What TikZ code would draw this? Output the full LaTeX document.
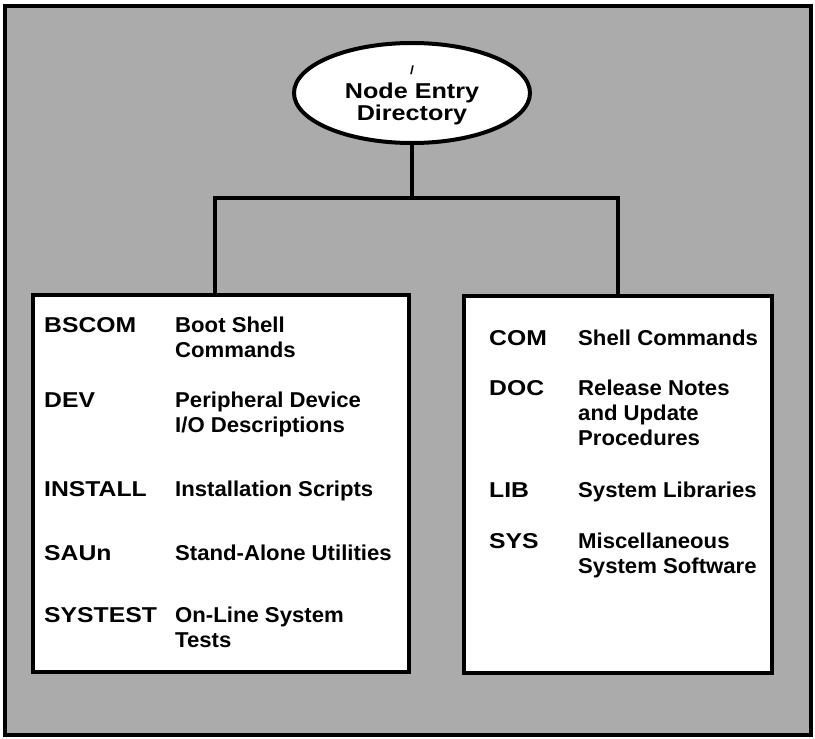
\documentclass[tikz,border=0pt]{standalone}
\usepackage{fontspec}
\setmainfont{Liberation Sans}[FakeStretch=1.03]
\newfontfamily\capfont{Liberation Sans}[FakeStretch=1.15]
\newfontfamily\ellfont{Liberation Sans}[FakeStretch=1.17]
\usetikzlibrary{shapes.geometric}
\definecolor{bggray}{gray}{0.67}
\tikzset{
  frame/.style={line width=4.5pt, draw=black},
  boxnode/.style={draw=black, line width=4.5pt, fill=white, rectangle, inner sep=0pt},
  rootnode/.style={draw=black, line width=4pt, fill=white, ellipse, inner sep=0pt,
    minimum width=236pt, minimum height=100pt, align=center,
    font=\ellfont\bfseries\fontsize{21.5}{23}\selectfont, text depth=0pt},
  conn/.style={line width=4pt, line join=miter},
  lbl/.style={anchor=base west, inner sep=0pt, font=\capfont\bfseries\fontsize{21.5}{25}\selectfont},
  desc/.style={anchor=base west, inner sep=0pt, align=left, font=\bfseries\fontsize{21.5}{25}\selectfont},
}
\begin{document}
\begin{tikzpicture}[x=1pt,y=-1pt]
\useasboundingbox (0,0) rectangle (815,739);
\draw[frame, fill=bggray] (5,6) rectangle (811,735);

\node[rootnode] (root) at (412,93) {{\fontsize{12}{23}\selectfont /}\\[1pt]Node Entry\\[-1pt]Directory};

\node[boxnode, minimum width=376pt, minimum height=377pt] (lbox) at (221,483.5) {};
\node[boxnode, minimum width=308pt, minimum height=377pt] (rbox) at (618,484.5) {};

\coordinate (j) at (412,198);
\coordinate (jl) at (215,198);
\coordinate (jr) at (618,198);
\draw[conn] (root.south) -- (j);
\draw[conn] (jl |- lbox.north) -- (jl) -- (jr) -- (jr |- rbox.north);

% left box (multi-line texts are placed by the baseline of their last line)
\node[lbl] (bscom) at (44,332) {BSCOM};
\node[desc] (bscomd) at (175,357) {Boot Shell\\Commands};
\node[lbl] (dev) at (44,407) {DEV};
\node[desc] (devd) at (175,432) {Peripheral Device\\I/O Descriptions};
\node[lbl] (install) at (44,496) {INSTALL};
\node[desc] (installd) at (175,496) {Installation Scripts};
\node[lbl] (saun) at (44,560) {SAUn};
\node[desc] (saund) at (175,560) {Stand-Alone Utilities};
\node[lbl] (systest) at (44,622) {SYSTEST};
\node[desc] (systestd) at (175,647) {On-Line System\\Tests};

% right box
\node[lbl] (com) at (489,345) {COM};
\node[desc] (comd) at (578,345) {Shell Commands};
\node[lbl] (doc) at (489,395) {DOC};
\node[desc] (docd) at (578,445) {Release Notes\\and Update\\Procedures};
\node[lbl] (lib) at (489,497) {LIB};
\node[desc] (libd) at (578,497) {System Libraries};
\node[lbl] (sys) at (489,548) {SYS};
\node[desc] (sysd) at (578,573) {Miscellaneous\\System Software};
\end{tikzpicture}
\end{document}
